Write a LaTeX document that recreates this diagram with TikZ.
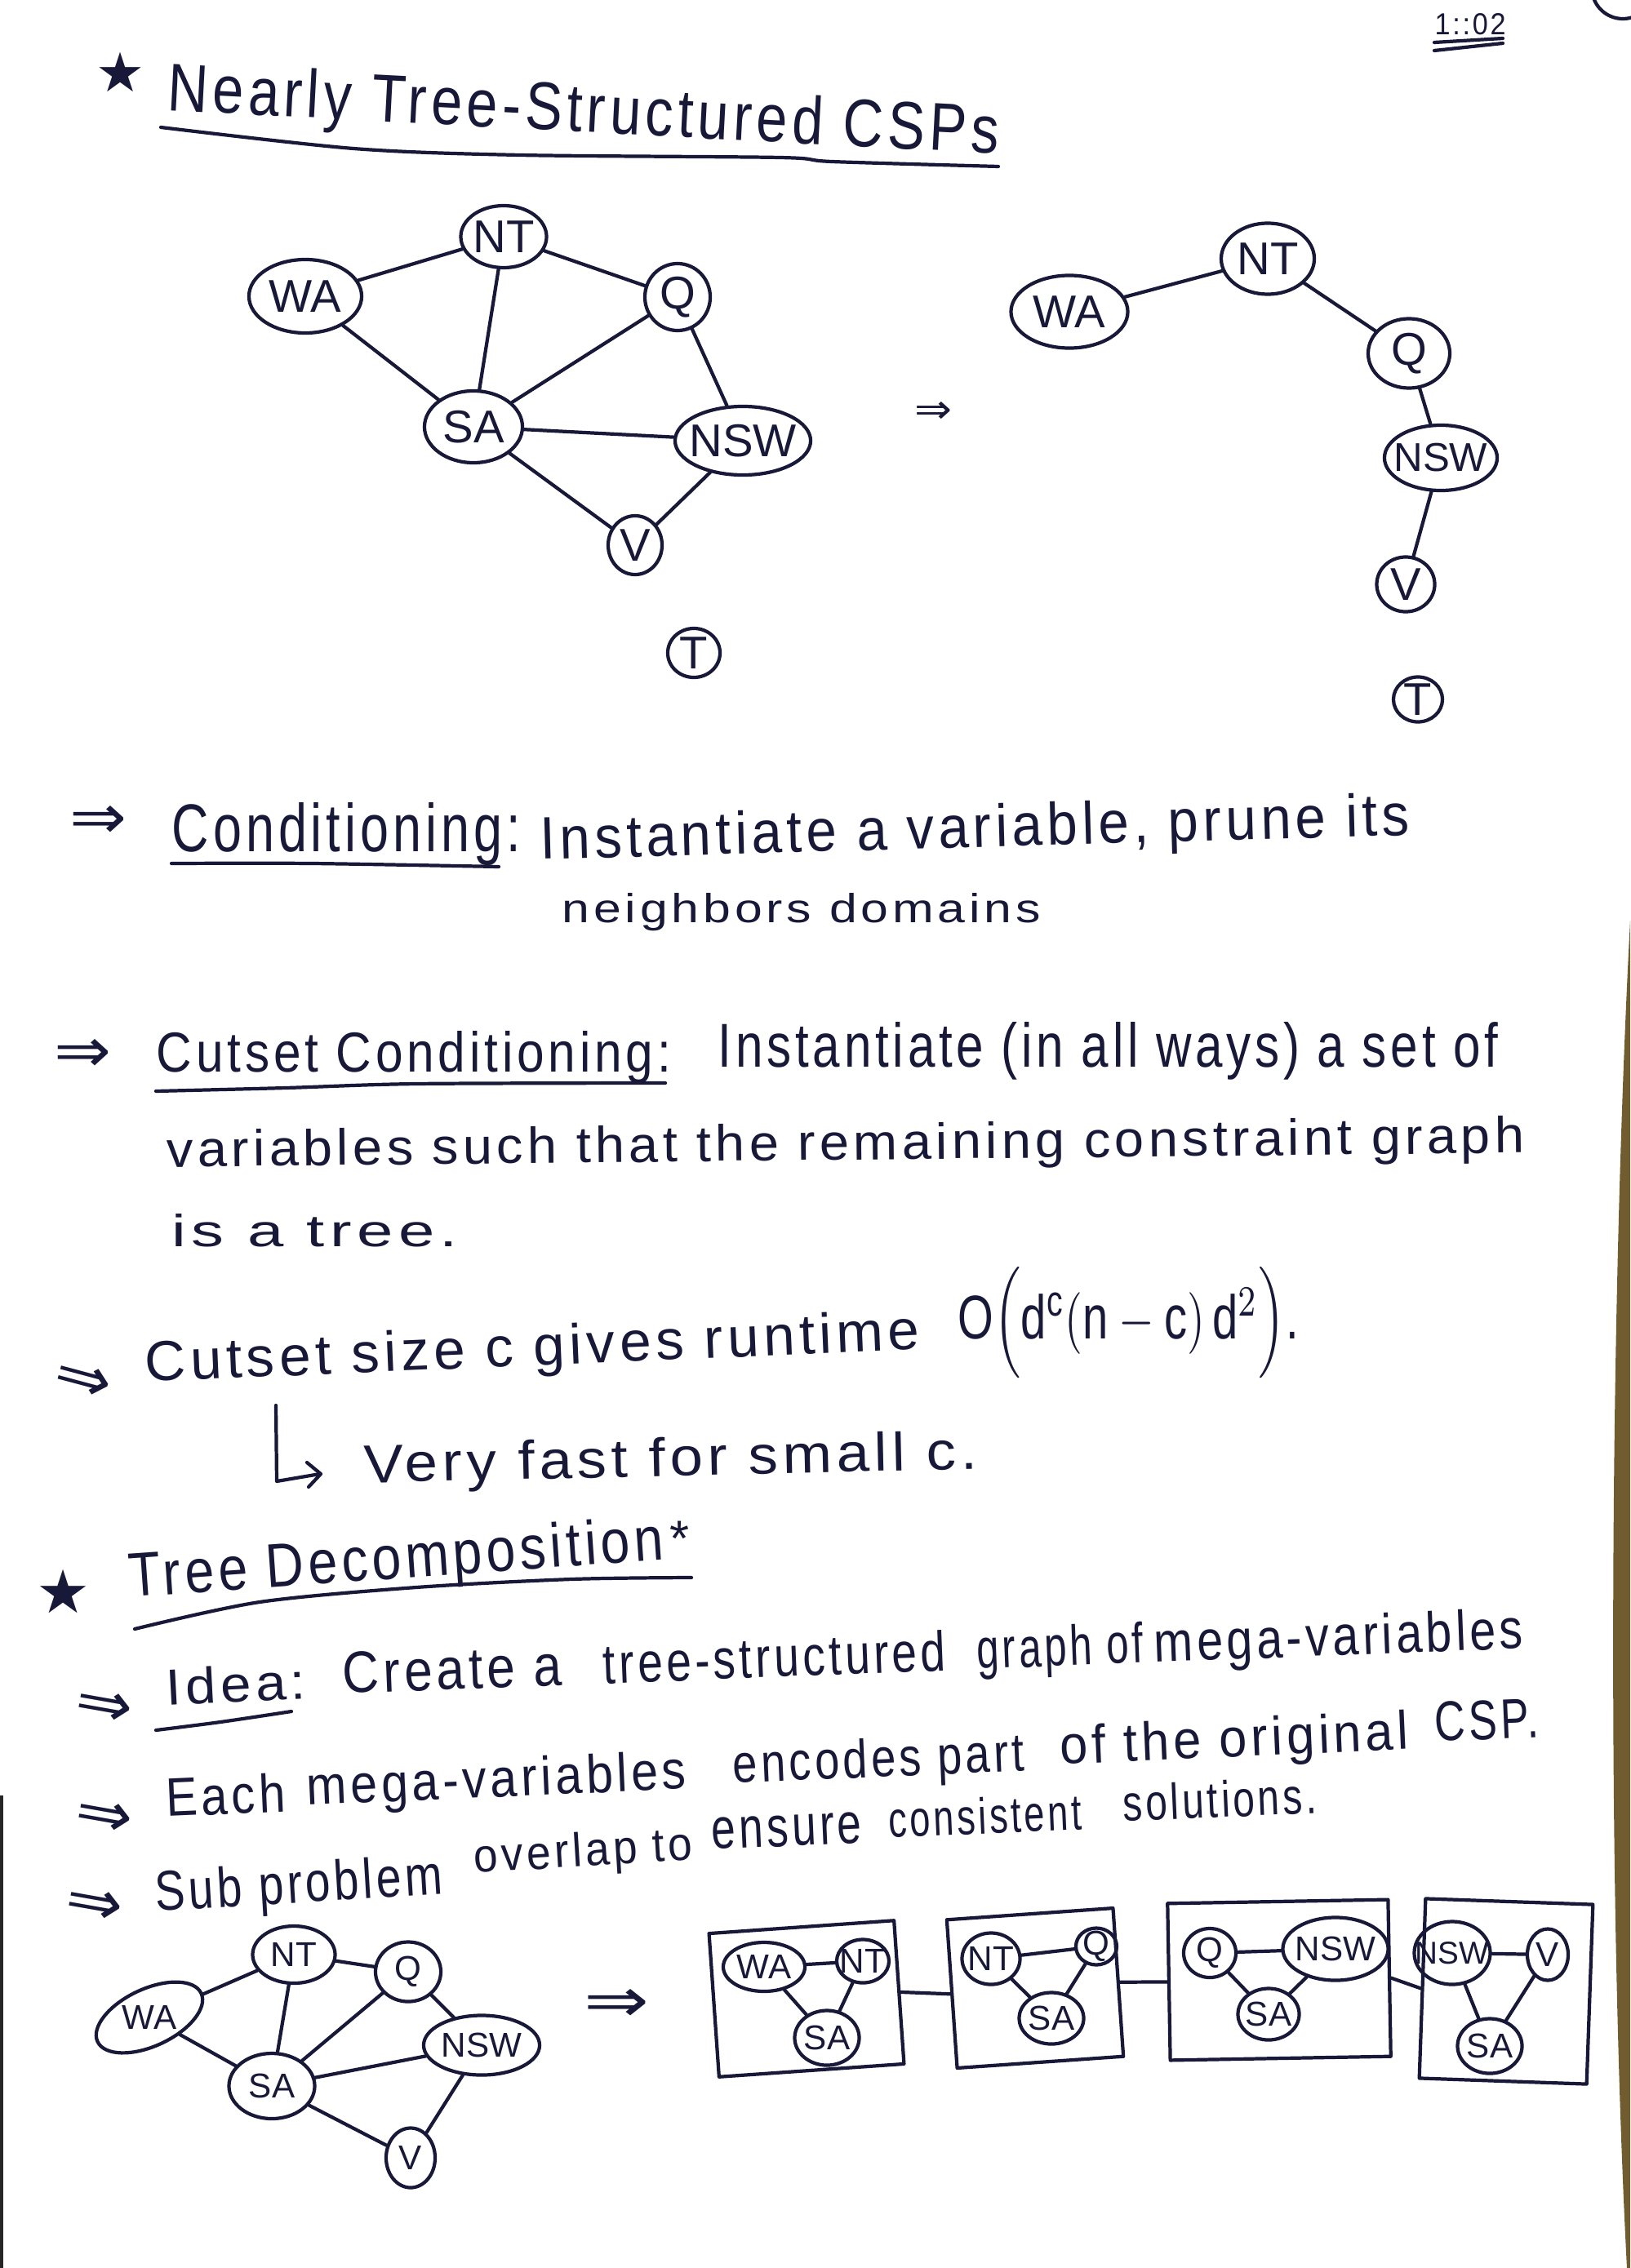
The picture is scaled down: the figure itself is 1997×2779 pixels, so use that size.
\documentclass[tikz,border=0pt]{standalone}
\usepackage{graphicx}
\usepackage{fontspec}
\setmainfont{Liberation Sans}
\setsansfont{Liberation Sans}
\newfontfamily\hand{Liberation Sans}[LetterSpace=8]
\newfontfamily\symfont{DejaVu Sans}
\usetikzlibrary{shapes.geometric}
\definecolor{ink}{RGB}{24,24,56}
\definecolor{edgeband}{RGB}{112,92,46}
% a handwritten-looking piece of text, set to a given width and height
\newcommand{\hw}[3]{\resizebox{#1}{#2}{#3}}
% the double arrow used as a bullet
\newcommand{\imp}{\resizebox{0.70cm}{0.40cm}{⇒}}
\begin{document}
\begin{tikzpicture}[x=0.01cm,y=-0.01cm,
  pen/.style={draw=ink, line width=1.2pt, line cap=round, line join=round},
  var/.style={ellipse, pen, inner sep=0pt},
  lab/.style={text=ink, inner sep=0pt, font=\fontsize{16}{16}\selectfont},
  slab/.style={text=ink, inner sep=0pt, font=\fontsize{12}{12}\selectfont},
  txt/.style={anchor=base west, inner sep=0pt, text=ink, font=\hand},
  sym/.style={anchor=center, inner sep=0pt, text=ink, font=\symfont},
  box/.style={rectangle, pen, inner sep=0pt}]
\useasboundingbox (0,0) rectangle (1997,2779);
\fill[white] (0,0) rectangle (1997,2779);
% page edges
\fill[edgeband] (1997,1128) .. controls (1972,1600) and (1968,2300) .. (1993,2779) -- (1997,2779) -- cycle;
\fill[black!85] (0,2200) rectangle (4,2779);

% ---------- heading ----------
\draw[pen] (1988,-15) circle [radius=0.38cm];
\node[txt] (clock) at (1757,43) {\hw{0.87cm}{0.26cm}{1::02}};
\draw[pen] (1757,52) -- (1841,47);
\draw[pen] (1757,62) -- (1841,53);

\node[sym] (star1) at (148,88) {\resizebox{0.60cm}{!}{★}};
\node[txt, rotate=-3] (title) at (204,135) {\hw{10.19cm}{0.60cm}{Nearly Tree-Structured CSPs}};
\draw[pen] plot[smooth] coordinates {(197,156) (433,182) (637,190) (955,193) (1019,198) (1223,204)};

% ---------- constraint graph ----------
\node[var, minimum width=1.05cm, minimum height=0.76cm, label={[lab]center:NT}] (aNT) at (617,290) {};
\node[var, minimum width=1.38cm, minimum height=0.90cm, label={[lab]center:WA}] (aWA) at (374,363) {};
\node[var, minimum width=0.80cm, minimum height=0.82cm, label={[lab]center:Q}] (aQ) at (830,364) {};
\node[var, minimum width=1.20cm, minimum height=0.88cm, label={[lab]center:SA}] (aSA) at (580,523) {};
\node[var, minimum width=1.66cm, minimum height=0.84cm, label={[lab]center:NSW}] (aNSW) at (910,540) {};
\node[var, minimum width=0.66cm, minimum height=0.72cm, label={[lab]center:V}] (aV) at (778,668) {};
\node[var, minimum width=0.64cm, minimum height=0.60cm, label={[lab]center:T}] (aT) at (850,800) {};
\draw[pen] (aWA) -- (aNT);
\draw[pen] (aWA) -- (aSA);
\draw[pen] (aNT) -- (aSA);
\draw[pen] (aNT) -- (aQ);
\draw[pen] (aQ) -- (aSA);
\draw[pen] (aQ) -- (aNSW);
\draw[pen] (aSA) -- (aNSW);
\draw[pen] (aSA) -- (aV);
\draw[pen] (aNSW) -- (aV);

\node[sym] (arr1) at (1143,505) {\resizebox{0.46cm}{0.26cm}{⇒}};

% ---------- graph after removing SA ----------
\node[var, minimum width=1.43cm, minimum height=0.89cm, label={[lab]center:WA}] (bWA) at (1310,382) {};
\node[var, minimum width=1.14cm, minimum height=0.87cm, label={[lab]center:NT}] (bNT) at (1553,317) {};
\node[var, minimum width=1.00cm, minimum height=0.85cm, label={[lab]center:Q}] (bQ) at (1726,433) {};
\node[var, minimum width=1.38cm, minimum height=0.80cm, label={[lab, font=\fontsize{14}{14}\selectfont]center:NSW}] (bNSW) at (1765,561) {};
\node[var, minimum width=0.71cm, minimum height=0.67cm, label={[lab]center:V}] (bV) at (1722,716) {};
\node[var, minimum width=0.60cm, minimum height=0.55cm, label={[lab]center:T}] (bT) at (1737,857) {};
\draw[pen] (bWA) -- (bNT);
\draw[pen] (bNT) -- (bQ);
\draw[pen] (bQ) -- (bNSW);
\draw[pen] (bNSW) -- (bV);

% ---------- conditioning ----------
\node[sym] (bulA) at (121,1007) {\imp};
\node[txt] (condA) at (210,1043) {\hw{4.27cm}{0.60cm}{Conditioning:}};
\draw[pen] plot[smooth] coordinates {(210,1058) (382,1058) (611,1062)};
\node[txt, rotate=1.6] (condB) at (662,1053) {\hw{10.64cm}{0.53cm}{Instantiate a variable, prune its}};
\node[txt] (condC) at (688,1130) {\hw{5.86cm}{0.36cm}{neighbors domains}};

\node[sym] (bulB) at (102,1293) {\imp};
\node[txt] (cutA) at (191,1313) {\hw{6.30cm}{0.50cm}{Cutset Conditioning:}};
\draw[pen] plot[smooth] coordinates {(191,1337) (350,1333) (510,1328) (815,1327)};
\node[txt] (cutB) at (879,1307) {\hw{9.55cm}{0.55cm}{Instantiate (in all ways) a set of}};
\node[txt, rotate=0.6] (cutC) at (204,1430) {\hw{16.62cm}{0.45cm}{variables such that the remaining constraint graph}};
\node[txt] (cutD) at (210,1527) {\hw{3.50cm}{0.40cm}{is a tree.}};

\node[sym, rotate=-15] (bulE) at (102,1693) {\imp};
\node[txt, rotate=2.4] (sizeA) at (178,1693) {\hw{9.49cm}{0.50cm}{Cutset size c gives runtime}};
\node[txt] (rt) at (1173,1640) {\hw{4.17cm}{0.87cm}{$\mathsf{O}\Big(\mathsf{d}^{\mathsf{c}}(\mathsf{n}-\mathsf{c})\,\mathsf{d}^{2}\Big)$.}};

\draw[pen] (338,1722) -- (339,1815) -- (392,1806);
\draw[pen] (376,1792) -- (393,1806) -- (378,1822);
\node[txt, rotate=1.3] (fast) at (446,1817) {\hw{7.51cm}{0.48cm}{Very fast for small c.}};

% ---------- tree decomposition ----------
\node[sym] (star2) at (78,1950) {\resizebox{0.66cm}{!}{★}};
\node[txt, rotate=4] (tdA) at (159,1957) {\hw{6.56cm}{0.55cm}{Tree Decomposition}};
\node[txt, anchor=center] (tdStar) at (832,1885) {\resizebox{0.24cm}{!}{*}};
\draw[pen] plot[smooth] coordinates {(165,1996) (318,1963) (510,1945) (700,1935) (847,1933)};

\node[sym, rotate=-10] (bulH) at (127,2093) {\imp};
\node[txt, rotate=3] (idea) at (204,2090) {\hw{1.71cm}{0.45cm}{Idea:}};
\draw[pen] plot[smooth] coordinates {(191,2120) (270,2110) (357,2097)};
\node[txt, rotate=2.2] (ideaB) at (420,2075) {\hw{2.68cm}{0.50cm}{Create a}};
\node[txt, rotate=2.2] (ideaC) at (739,2063) {\hw{4.20cm}{0.50cm}{tree-structured}};
\node[txt, rotate=2.2] (ideaD) at (1197,2045) {\hw{2.04cm}{0.50cm}{graph of}};
\node[txt, rotate=2.2] (ideaE) at (1414,2037) {\hw{4.52cm}{0.50cm}{mega-variables}};

\node[sym, rotate=-10] (bulI) at (127,2228) {\imp};
\node[txt, rotate=2.5] (eachA) at (204,2226) {\hw{1.46cm}{0.48cm}{Each}};
\node[txt, rotate=2.5] (eachB) at (376,2212) {\hw{4.65cm}{0.48cm}{mega-variables}};
\node[txt, rotate=2.5] (eachC) at (898,2185) {\hw{3.57cm}{0.48cm}{encodes part}};
\node[txt, rotate=2.5] (eachD) at (1299,2162) {\hw{4.27cm}{0.48cm}{of the original}};
\node[txt, rotate=2.5] (eachE) at (1758,2134) {\hw{1.27cm}{0.48cm}{CSP.}};

\node[sym, rotate=-10] (bulJ) at (115,2336) {\imp};
\node[txt, rotate=3.5] (subA) at (191,2342) {\hw{3.52cm}{0.50cm}{Sub problem}};
\node[txt, rotate=3.5] (subB) at (581,2295) {\hw{2.68cm}{0.42cm}{overlap to}};
\node[txt, rotate=2.5] (subC) at (872,2266) {\hw{1.84cm}{0.38cm}{ensure}};
\node[txt, rotate=2.5] (subD) at (1089,2252) {\hw{2.36cm}{0.45cm}{consistent}};
\node[txt, rotate=2.5] (subE) at (1376,2232) {\hw{2.37cm}{0.45cm}{solutions.}};

% ---------- constraint graph again ----------
\node[var, minimum width=1.01cm, minimum height=0.70cm, label={[slab]center:NT}] (cNT) at (360,2395) {};
\node[var, rotate=25, minimum width=1.40cm, minimum height=0.70cm, label={[slab]center:WA}] (cWA) at (183,2472) {};
\node[var, minimum width=0.80cm, minimum height=0.73cm, label={[slab]center:Q}] (cQ) at (500,2416) {};
\node[var, minimum width=1.05cm, minimum height=0.80cm, label={[slab]center:SA}] (cSA) at (333,2556) {};
\node[var, minimum width=1.42cm, minimum height=0.73cm, label={[slab]center:NSW}] (cNSW) at (590,2506) {};
\node[var, minimum width=0.60cm, minimum height=0.73cm, label={[slab]center:V}] (cV) at (503,2644) {};
\draw[pen] (cWA) -- (cNT);
\draw[pen] (cNT) -- (cQ);
\draw[pen] (cNT) -- (cSA);
\draw[pen] (cWA) -- (cSA);
\draw[pen] (cQ) -- (cSA);
\draw[pen] (cQ) -- (cNSW);
\draw[pen] (cSA) -- (cNSW);
\draw[pen] (cSA) -- (cV);
\draw[pen] (cNSW) -- (cV);

\node[sym] (arr2) at (756,2457) {\resizebox{0.80cm}{0.40cm}{⇒}};

% ---------- tree of mega-variables ----------
\node[box, rotate=4, minimum width=2.27cm, minimum height=1.76cm] (d1) at (988,2449) {};
\node[box, rotate=4, minimum width=2.04cm, minimum height=1.82cm] (d2) at (1268,2436) {};
\node[box, rotate=1, minimum width=2.70cm, minimum height=1.92cm] (d3) at (1567,2426) {};
\node[box, rotate=-2, minimum width=2.05cm, minimum height=2.20cm] (d4) at (1845,2440) {};
\draw[pen] (d1.east) -- (d2.west);
\draw[pen] (d2.east) -- (d3.west);
\draw[pen] (d3.east) -- (d4.west);

\node[var, minimum width=1.00cm, minimum height=0.60cm, label={[slab]center:WA}] (d1WA) at (936,2410) {};
\node[var, minimum width=0.64cm, minimum height=0.53cm, label={[slab]center:NT}] (d1NT) at (1057,2403) {};
\node[var, minimum width=0.79cm, minimum height=0.67cm, label={[slab]center:SA}] (d1SA) at (1013,2497) {};
\draw[pen] (d1WA) -- (d1NT);
\draw[pen] (d1WA) -- (d1SA);
\draw[pen] (d1NT) -- (d1SA);

\node[var, minimum width=0.71cm, minimum height=0.63cm, label={[slab]center:NT}] (d2NT) at (1214,2400) {};
\node[var, minimum width=0.50cm, minimum height=0.45cm, label={[slab]center:Q}] (d2Q) at (1343,2385) {};
\node[var, minimum width=0.79cm, minimum height=0.63cm, label={[slab]center:SA}] (d2SA) at (1288,2473) {};
\draw[pen] (d2NT) -- (d2Q);
\draw[pen] (d2NT) -- (d2SA);
\draw[pen] (d2Q) -- (d2SA);

\node[var, minimum width=0.64cm, minimum height=0.60cm, label={[slab]center:Q}] (d3Q) at (1482,2393) {};
\node[var, minimum width=1.29cm, minimum height=0.77cm, label={[slab]center:NSW}] (d3NSW) at (1636,2388) {};
\node[var, minimum width=0.75cm, minimum height=0.63cm, label={[slab]center:SA}] (d3SA) at (1554,2468) {};
\draw[pen] (d3Q) -- (d3NSW);
\draw[pen] (d3Q) -- (d3SA);
\draw[pen] (d3NSW) -- (d3SA);

\node[var, minimum width=0.93cm, minimum height=0.77cm, label={[slab, font=\fontsize{11}{11}\selectfont]center:NSW}] (d4NSW) at (1779,2393) {};
\node[var, minimum width=0.50cm, minimum height=0.63cm, label={[slab]center:V}] (d4V) at (1896,2395) {};
\node[var, minimum width=0.79cm, minimum height=0.67cm, label={[slab]center:SA}] (d4SA) at (1825,2507) {};
\draw[pen] (d4NSW) -- (d4V);
\draw[pen] (d4NSW) -- (d4SA);
\draw[pen] (d4V) -- (d4SA);
\end{tikzpicture}
\end{document}
